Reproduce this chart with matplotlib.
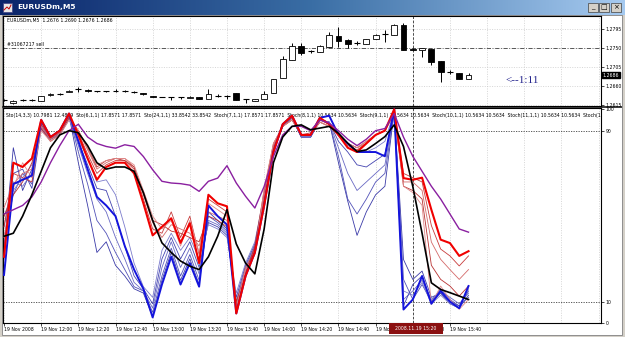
import numpy as np
import matplotlib.pyplot as plt
from matplotlib.patches import Rectangle
from matplotlib import font_manager as fm
from matplotlib.colors import LinearSegmentedColormap

W, H = 625, 337

# ---- price data (EURUSDm M5, 19 Nov 2008 11:40 .. 15:50) ----
opens = [1.2627, 1.2620, 1.2627, 1.2627, 1.2624, 1.2639, 1.2641, 1.2646, 1.2652, 1.2651,
         1.2647, 1.2647, 1.2648, 1.2648, 1.2646, 1.2643, 1.2637, 1.2634, 1.2635, 1.2633,
         1.2632, 1.2634, 1.2629, 1.2636, 1.2637, 1.2643, 1.2629, 1.2624, 1.2628, 1.2643,
         1.2679, 1.2722, 1.2755, 1.2742, 1.2741, 1.2752, 1.2778, 1.2769, 1.2761, 1.2759,
         1.2771, 1.2783, 1.2781, 1.2804, 1.2748, 1.2745, 1.2748, 1.2719, 1.2693, 1.2690,
         1.2676]
highs = [1.2629, 1.2627, 1.2629, 1.2630, 1.2636, 1.2643, 1.2643, 1.2651, 1.2658, 1.2652,
         1.2648, 1.2648, 1.2652, 1.2651, 1.2648, 1.2643, 1.2637, 1.2635, 1.2635, 1.2635,
         1.2636, 1.2634, 1.2653, 1.2640, 1.2639, 1.2643, 1.2630, 1.2630, 1.2647, 1.2677,
         1.2730, 1.2763, 1.2762, 1.2745, 1.2757, 1.2788, 1.2800, 1.2771, 1.2767, 1.2772,
         1.2782, 1.2793, 1.2806, 1.2809, 1.2749, 1.2750, 1.2748, 1.2720, 1.2697, 1.2690,
         1.2690]
lows = [1.2624, 1.2617, 1.2624, 1.2624, 1.2624, 1.2637, 1.2639, 1.2646, 1.2646, 1.2646,
        1.2646, 1.2646, 1.2646, 1.2646, 1.2643, 1.2639, 1.2634, 1.2633, 1.2627, 1.2629,
        1.2632, 1.2629, 1.2629, 1.2634, 1.2628, 1.2627, 1.2620, 1.2624, 1.2628, 1.2643,
        1.2679, 1.2722, 1.2733, 1.2738, 1.2741, 1.2752, 1.2752, 1.2750, 1.2756, 1.2759,
        1.2771, 1.2764, 1.2781, 1.2745, 1.2745, 1.2729, 1.2710, 1.2669, 1.2688, 1.2677,
        1.2676]
closes = [1.2627, 1.2624, 1.2627, 1.2627, 1.2636, 1.2641, 1.2641, 1.2649, 1.2652, 1.2647,
          1.2647, 1.2647, 1.2648, 1.2648, 1.2646, 1.2640, 1.2634, 1.2634, 1.2635, 1.2633,
          1.2635, 1.2630, 1.2641, 1.2636, 1.2637, 1.2627, 1.2629, 1.2629, 1.2642, 1.2677,
          1.2724, 1.2755, 1.2738, 1.2742, 1.2755, 1.2781, 1.2767, 1.2759, 1.2761, 1.2771,
          1.2781, 1.2783, 1.2804, 1.2745, 1.2746, 1.2749, 1.2718, 1.2693, 1.2693, 1.2677,
          1.2686]

time_labels = ["19 Nov 2008", "19 Nov 12:00", "19 Nov 12:20", "19 Nov 12:40", "19 Nov 13:00",
               "19 Nov 13:20", "19 Nov 13:40", "19 Nov 14:00", "19 Nov 14:20", "19 Nov 14:40",
               "19 Nov 15:00", "19 Nov 15:20", "19 Nov 15:40"]
price_ticks = [1.2615, 1.2660, 1.2705, 1.2750, 1.2795]
order_price = 1.2750
last_price = 1.2686

# ---- oscillators ----
sto_black = [40.6, 42, 50, 60, 71, 82, 88, 90, 89, 83, 75, 72, 73, 73, 71, 61, 48, 37.5, 33, 29,
             26.6, 25, 31, 40.6, 53, 37, 28, 23, 44, 75, 87, 92, 92.7, 90.4, 91.2, 92, 88.8, 84.1,
             80.2, 81, 84, 87.2, 92.7, 82.6, 63.9, 42, 18.8, 15.7, 14.2, 12.6, 11]
sto_purple = [51, 53, 55, 59, 66, 75, 83, 90, 93, 87, 84, 82.6, 81.8, 83.4, 82.6, 77.9, 71.7, 66.3,
              65.5, 65.2, 64.5, 61.6, 66.3, 67.8, 73.6, 65.5, 59.3, 53.8, 63.9, 77.9, 88, 92, 92,
              90, 95, 93.5, 90, 86, 83, 86, 90, 91, 98, 87, 78, 71, 64, 58, 51, 44, 42.5]
red_thick = [31, 75, 73, 77, 95, 87, 90, 98, 88, 77, 67, 73, 75, 75, 70, 56, 41, 45, 49, 37.5,
             46.7, 28, 60, 56, 54.6, 4.5, 22, 33, 55, 80, 93, 97, 88, 88, 96, 93, 88, 82, 80, 84,
             88, 90, 100, 67.8, 67, 68, 53, 39, 37.4, 31.4, 33.6]
red_thin = [
    [45, 70, 68, 66, 93, 86, 89, 97, 89, 79, 70, 74, 76, 76, 72, 58, 44, 42, 52, 40, 50, 32, 58,
     55, 52, 6, 24, 35, 58, 82, 93, 96, 88, 89, 95, 93, 88, 83, 81, 84, 88, 90, 99, 70, 68, 66,
     45.6, 34.6, 31.4, 26.7, 31.4],
    [54, 65, 70, 72, 92, 86, 89, 96, 90, 81, 72, 75, 77, 77, 73, 60, 47, 40, 46, 44, 42, 36, 52,
     50, 48, 8, 26, 34, 60, 83, 92, 95, 88, 88, 94, 92, 88, 84, 82, 84, 88, 90, 98, 66, 66, 62,
     37.9, 29.8, 25, 20.4, 25],
    [50, 60, 66, 75, 91, 85, 88, 96, 90, 82, 73, 76, 77, 76, 73, 61, 48, 46, 43, 42, 40, 38, 50,
     48, 45, 10, 23, 36, 62, 84, 92, 95, 88, 88, 94, 92, 88, 84, 82, 85, 88, 90, 98, 64, 62, 58,
     27, 20.4, 17.3, 12.6, 17.3],
    [40, 63, 75, 68, 90, 85, 88, 95, 90, 82, 74, 76, 77, 77, 74, 62, 50, 44, 48, 36, 48, 33, 56,
     53, 50, 7, 25, 32, 63, 84, 92, 95, 88, 88, 94, 92, 88, 84, 82, 85, 88, 90, 98, 64, 61, 55,
     8.7, 17.3, 11, 6.4, 11],
]
blue_thick = [22.5, 65, 67, 69, 95, 87, 90, 98, 85, 72, 59, 55, 50, 36, 25, 16, 2.6, 18, 31, 18,
              28, 17, 55, 50, 46, 4.5, 22, 33, 55, 80, 93, 97, 88, 88, 96, 97, 88, 84, 80, 80,
              80, 78, 100, 6.3, 11, 22, 9, 15, 10, 6.9, 17.3]
blue_thin = [
    [35, 82, 62, 72, 94, 86, 89, 97, 75, 55, 33, 38, 27, 22, 16, 14, 3, 20, 33, 20, 30, 18, 52,
     48, 44, 6, 24, 34, 56, 80, 92, 96, 87, 87, 95, 94, 75, 57, 41, 52, 60, 64, 99, 29.7, 20.4,
     24.3, 12, 14, 9, 7, 13],
    [40, 60, 70, 65, 93, 86, 89, 97, 80, 65, 48, 42, 33, 25, 17, 15, 5, 22, 35, 22, 32, 20, 50,
     47, 43, 8, 25, 35, 57, 81, 92, 96, 87, 87, 95, 94, 78, 58, 51, 58, 66, 70, 99, 20.4, 11, 18,
     10, 16, 11, 8, 12],
    [45, 66, 64, 70, 92, 86, 89, 96, 83, 70, 58, 52, 40, 30, 19, 15, 7, 26, 38, 26, 35, 23, 48,
     46, 42, 10, 26, 36, 58, 82, 92, 96, 87, 87, 95, 94, 82, 70, 62, 66, 70, 74, 99, 11, 15, 20,
     11, 15, 12, 9, 14],
    [30, 70, 72, 63, 91, 86, 88, 96, 85, 74, 63, 62, 50, 36, 22, 16, 9, 30, 40, 30, 38, 26, 47,
     45, 41, 12, 27, 37, 59, 82, 92, 96, 87, 87, 95, 94, 85, 80, 74, 73, 76, 79, 99, 8, 18, 22,
     10, 14, 10, 8, 15],
    [50, 62, 68, 74, 90, 86, 88, 95, 86, 77, 66, 67, 60, 45, 28, 17, 12, 34, 42, 34, 40, 30, 46,
     44, 40, 14, 28, 38, 60, 83, 92, 96, 87, 87, 95, 94, 88, 84, 80, 80, 82, 85, 99, 15, 13, 19,
     9, 13, 9, 7, 16],
]
legend_text = ("Sto(14,3,3) 10.7981 12.4879  Sto(6,1,1) 17.8571 17.8571  Sto(24,1,1) 33.8542 33.8542  "
               "Stoch(7,1,1) 17.8571 17.8571  Stoch(8,1,1) 10.5634 10.5634  Stoch(9,1,1) 10.5634 10.5634  "
               "Stoch(10,1,1) 10.5634 10.5634  Stoch(11,1,1) 10.5634 10.5634  Stoch(12,1,1) 10.5634")

bars = np.arange(len(closes))
cursor_bar = 44


# MT4 uses a tiny narrow font; pick a narrow face when one is there
def pick_font():
    for fam in ['Liberation Sans Narrow', 'Arial Narrow']:
        try:
            fm.findfont(fm.FontProperties(family=fam), fallback_to_default=False)
            return fam, 4.0
        except Exception:
            pass
    return 'DejaVu Sans', 3.3


FONT, FS = pick_font()
plt.rcParams['font.family'] = [FONT, 'DejaVu Sans']

fig = plt.figure(figsize=(W / 100, H / 100), dpi=100)
fig.patch.set_facecolor('#d4d0c8')


def px_axes(x0, y0, x1, y1):
    return fig.add_axes([x0 / W, 1 - y1 / H, (x1 - x0) / W, (y1 - y0) / H])


# window background + title bar
bg = px_axes(0, 0, W, H)
bg.set_xlim(0, W)
bg.set_ylim(H, 0)
bg.axis('off')
bg.add_patch(Rectangle((2, 15), 620, 320, facecolor='#ffffff', edgecolor='#808080', lw=0.6))
grad = np.linspace(0, 1, 256).reshape(1, -1)
bg.imshow(grad, extent=(0, W, 15, 0), aspect='auto', zorder=1,
          cmap=LinearSegmentedColormap.from_list('tb', ['#0a246a', '#3a6ea5', '#a6caf0']))
bg.add_patch(Rectangle((3, 3), 9, 9, facecolor='#e8e8e8', edgecolor='#404080', lw=0.5, zorder=2))
bg.plot([4, 7, 9, 11], [10, 7, 9, 5], color='#c00000', lw=0.7, zorder=3)
bg.text(17, 7.5, 'EURUSDm,M5', color='white', fontsize=5.4, fontweight='bold', va='center',
        family='DejaVu Sans', zorder=3)
for bx, sym in zip([588, 599, 611], ['_', '□', '×']):
    bg.add_patch(Rectangle((bx, 2.5), 10, 9.5, facecolor='#d4d0c8', edgecolor='#404040', lw=0.5, zorder=2))
    bg.text(bx + 5, 7.5, sym, fontsize=5, ha='center', va='center', color='black',
            family='DejaVu Sans', zorder=3)

# ---- upper price panel ----
ax1 = px_axes(3, 16, 601, 106)
ax1.set_facecolor('#ffffff')
ax1.set_xlim(-0.11, 64.26)
ax1.set_ylim(1.26126, 1.28258)
for b in range(0, 65, 4):
    ax1.axvline(b, color='#c8c8c8', lw=0.5, ls=(0, (1.5, 2)), zorder=0)
for p in price_ticks:
    ax1.axhline(p, color='#c8c8c8', lw=0.5, ls=(0, (1.5, 2)), zorder=0)
ax1.axhline(order_price, color='#404040', lw=0.6, ls=(0, (5, 2, 1, 2)), zorder=1)
ax1.axvline(cursor_bar, color='#303030', lw=0.6, ls=(0, (3, 2)), zorder=1)

for i in bars:
    o, h, l, c = opens[i], highs[i], lows[i], closes[i]
    ax1.vlines(i, l, h, color='black', lw=0.7, zorder=2)
    if abs(c - o) < 0.00005:
        ax1.hlines(o, i - 0.32, i + 0.32, color='black', lw=0.8, zorder=3)
    else:
        fc = 'white' if c > o else 'black'
        ax1.bar(i, abs(c - o), bottom=min(o, c), width=0.62, facecolor=fc,
                edgecolor='black', lw=0.6, zorder=3)

ax1.yaxis.tick_right()
ax1.set_yticks(price_ticks)
ax1.set_yticklabels(['%.4f' % p for p in price_ticks])
ax1.tick_params(axis='y', length=2, pad=1.2, labelsize=FS, width=0.5)
ax1.set_xticks([])
for s in ax1.spines.values():
    s.set_linewidth(0.8)

ax1.text(0.006, 1 - 4 / 90, 'EURUSDm,M5  1.2676 1.2690 1.2676 1.2686', transform=ax1.transAxes,
         fontsize=FS, va='center', ha='left')
ax1.text(0.006, 1 - 29 / 90, '#31067217 sell', transform=ax1.transAxes,
         fontsize=FS, va='center', ha='left')
ax1.text(54.0, 1.2674, '<--1:11', fontsize=8, color='#23238c', family='Liberation Serif',
         va='center', ha='left')
ax1.text(1.003, (last_price - 1.26126) / (1.28258 - 1.26126), '%.4f' % last_price,
         transform=ax1.transAxes, fontsize=FS, color='white', va='center', ha='left',
         bbox=dict(boxstyle='square,pad=0.15', facecolor='black', edgecolor='black'))

# ---- lower oscillator panel ----
ax2 = px_axes(3, 108, 601, 323)
ax2.set_facecolor('#ffffff')
ax2.set_xlim(-0.11, 64.26)
ax2.set_ylim(0.4, 100.6)
for b in range(0, 65, 4):
    ax2.axvline(b, color='#c8c8c8', lw=0.5, ls=(0, (1.5, 2)), zorder=0)
for lv in (10, 90):
    ax2.axhline(lv, color='#404040', lw=0.6, ls=(0, (1.5, 1.5)), zorder=1)
ax2.axvline(cursor_bar, color='#303030', lw=0.6, ls=(0, (3, 2)), zorder=1)

blue_cols = ['#3a3aa8', '#5252b8', '#6a6ac4', '#4444b0', '#7c7ccc']
for vals, col in zip(blue_thin, blue_cols):
    ax2.plot(bars, vals, color=col, lw=0.6, zorder=2)
red_cols = ['#c83c3c', '#d46a6a', '#b83232', '#e08a8a']
for vals, col in zip(red_thin, red_cols):
    ax2.plot(bars, vals, color=col, lw=0.6, zorder=3)
ax2.plot(bars, blue_thick, color='#1414dc', lw=1.4, zorder=4)
ax2.plot(bars, red_thick, color='#f00000', lw=1.5, zorder=5)
ax2.plot(bars, sto_purple, color='#8a1fa0', lw=1.0, zorder=6)
ax2.plot(bars, sto_black, color='black', lw=1.2, zorder=7)

ax2.yaxis.tick_right()
ax2.set_yticks([0, 10, 90, 100])
ax2.set_yticklabels(['0', '10', '90', '100'])
ax2.tick_params(axis='y', length=2, pad=1.2, labelsize=FS, width=0.5)
ax2.set_xticks(range(0, 49, 4))
ax2.set_xticklabels(time_labels)
ax2.tick_params(axis='x', length=2, pad=1.0, labelsize=FS, width=0.5)
for lab in ax2.get_xticklabels():
    lab.set_horizontalalignment('left')
for s in ax2.spines.values():
    s.set_linewidth(0.8)

ax2.text(0.005, 1 - 7 / 215, legend_text, transform=ax2.transAxes, fontsize=FS,
         va='center', ha='left', clip_on=True, zorder=1)

# crosshair time box on the time scale
xt = ax2.get_xaxis_transform()
ax2.add_patch(Rectangle((41.44, -0.049), 5.81, 0.047, transform=xt, facecolor='#8b1010',
                        edgecolor='none', clip_on=False, zorder=10))
ax2.text(44.35, -0.026, '2008.11.19 15:20', transform=xt, fontsize=FS, color='white',
         ha='center', va='center', clip_on=False, zorder=11)

# panel separator
bg.add_patch(Rectangle((2, 106), 620, 2, facecolor='#404040', edgecolor='none', zorder=5))

fig.savefig('out.png', dpi=100, facecolor=fig.get_facecolor())
